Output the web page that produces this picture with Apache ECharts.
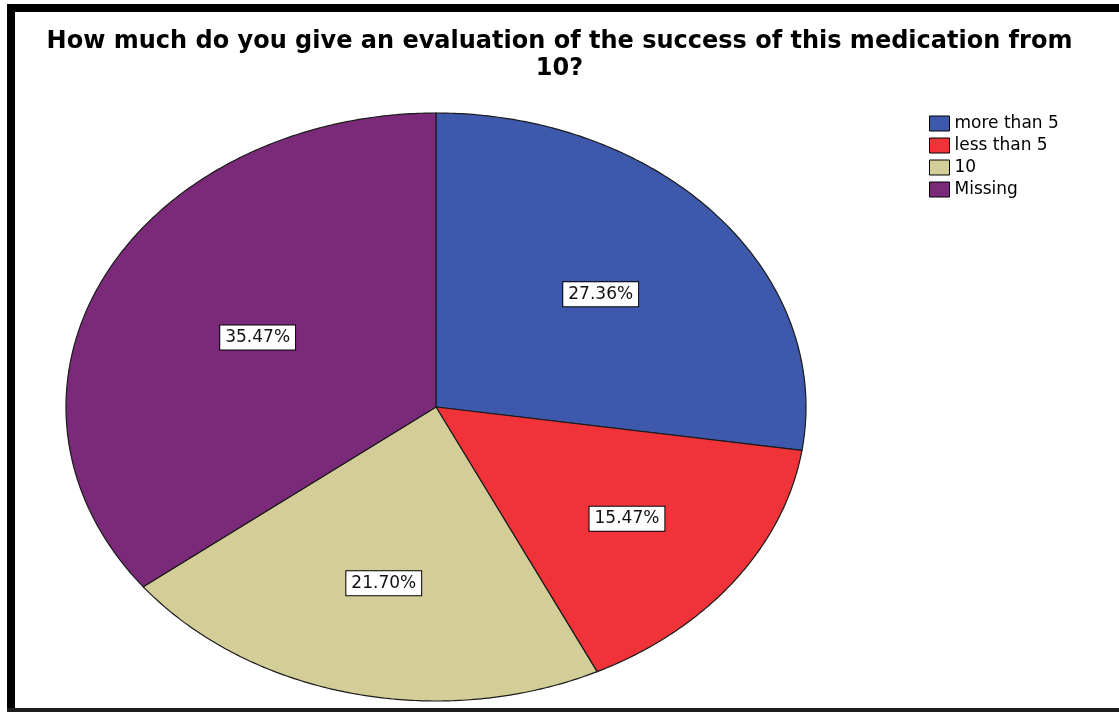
<!DOCTYPE html>
<html>
<head>
<meta charset="utf-8">
<script src="https://cdn.jsdelivr.net/npm/echarts@6/dist/echarts.min.js"></script>
<style>
html,body{margin:0;padding:0;background:#fff;}
#chart{width:1119px;height:712px;}
</style>
</head>
<body>
<div id="chart"></div>
<script>
// ---- data ----
var categories = ['more than 5', 'less than 5', '10', 'Missing'];
var percentValues = [27.36, 15.47, 21.70, 35.47];
var percentLabels = ['27.36%', '15.47%', '21.70%', '35.47%'];
var sliceColors = ['#3e58ac', '#ef3338', '#d3ce97', '#7b2a7a'];
var titleText = 'How much do you give an evaluation of the success of this medication from\n10?';

var FONT = '"DejaVu Sans", Verdana, sans-serif';
var total = percentValues.reduce(function (a, b) { return a + b; }, 0);
var cumStart = [];
(function () { var c = 0; for (var i = 0; i < percentValues.length; i++) { cumStart.push(c); c += percentValues[i]; } })();

function makeRender(idx) {
  return function (params, api) {
    var a0 = cumStart[idx] / total * Math.PI * 2;
    var a1 = (cumStart[idx] + percentValues[idx]) / total * Math.PI * 2;
    var pts = [api.coord([0, 0])];
    var steps = Math.max(8, Math.ceil((a1 - a0) / 0.01));
    for (var s = 0; s <= steps; s++) {
      var a = a0 + (a1 - a0) * s / steps;
      pts.push(api.coord([Math.sin(a), Math.cos(a)]));
    }
    var half = (a1 - a0) / 2;
    var mid = a0 + half;
    var f = 2 * Math.sin(half) / (3 * half);
    var lp = api.coord([f * Math.sin(mid), f * Math.cos(mid)]);
    return {
      type: 'group',
      children: [
        {
          type: 'polygon',
          shape: { points: pts },
          style: { fill: sliceColors[idx], stroke: '#1a1a1a', lineWidth: 1.2 }
        },
        {
          type: 'text',
          x: lp[0], y: lp[1],
          z2: 100,
          style: {
            text: percentLabels[idx],
            fill: '#111',
            font: '17px ' + FONT,
            align: 'center',
            verticalAlign: 'middle',
            backgroundColor: '#fff',
            borderColor: '#000',
            borderWidth: 1,
            padding: [4, 5, 3, 5]
          }
        }
      ]
    };
  };
}

var series = categories.map(function (name, i) {
  return {
    type: 'custom',
    name: name,
    coordinateSystem: 'cartesian2d',
    data: [[0, 0, percentValues[i]]],
    itemStyle: { color: sliceColors[i], borderColor: '#000', borderWidth: 1 },
    renderItem: makeRender(i),
    silent: true,
    animation: false
  };
});

var chart = echarts.init(document.getElementById('chart'), null, { renderer: 'canvas' });
chart.setOption({
  backgroundColor: '#fff',
  animation: false,
  title: {
    text: titleText,
    left: 'center',
    top: 28,
    padding: 0,
    textStyle: { fontFamily: FONT, fontWeight: 'bold', fontSize: 24, lineHeight: 27, color: '#000' }
  },
  legend: {
    orient: 'vertical',
    left: 929,
    top: 115,
    padding: 0,
    itemWidth: 20,
    itemHeight: 15,
    itemGap: 5,
    icon: 'rect',
    selectedMode: false,
    itemStyle: { borderColor: '#000', borderWidth: 1 },
    textStyle: { fontFamily: FONT, fontSize: 17, lineHeight: 15, color: '#000' },
    data: categories
  },
  grid: { left: 66, width: 740, top: 113, height: 588 },
  xAxis: { type: 'value', min: -1, max: 1, show: false },
  yAxis: { type: 'value', min: -1, max: 1, show: false },
  graphic: [
    { type: 'rect', shape: { x: 7, y: 4, width: 1112, height: 8 }, style: { fill: '#000' }, z: 100 },
    { type: 'rect', shape: { x: 7, y: 4, width: 8, height: 708 }, style: { fill: '#000' }, z: 100 },
    { type: 'rect', shape: { x: 7, y: 708, width: 1112, height: 4 }, style: { fill: '#1e1e1e' }, z: 100 }
  ],
  series: series
});
</script>
</body>
</html>
